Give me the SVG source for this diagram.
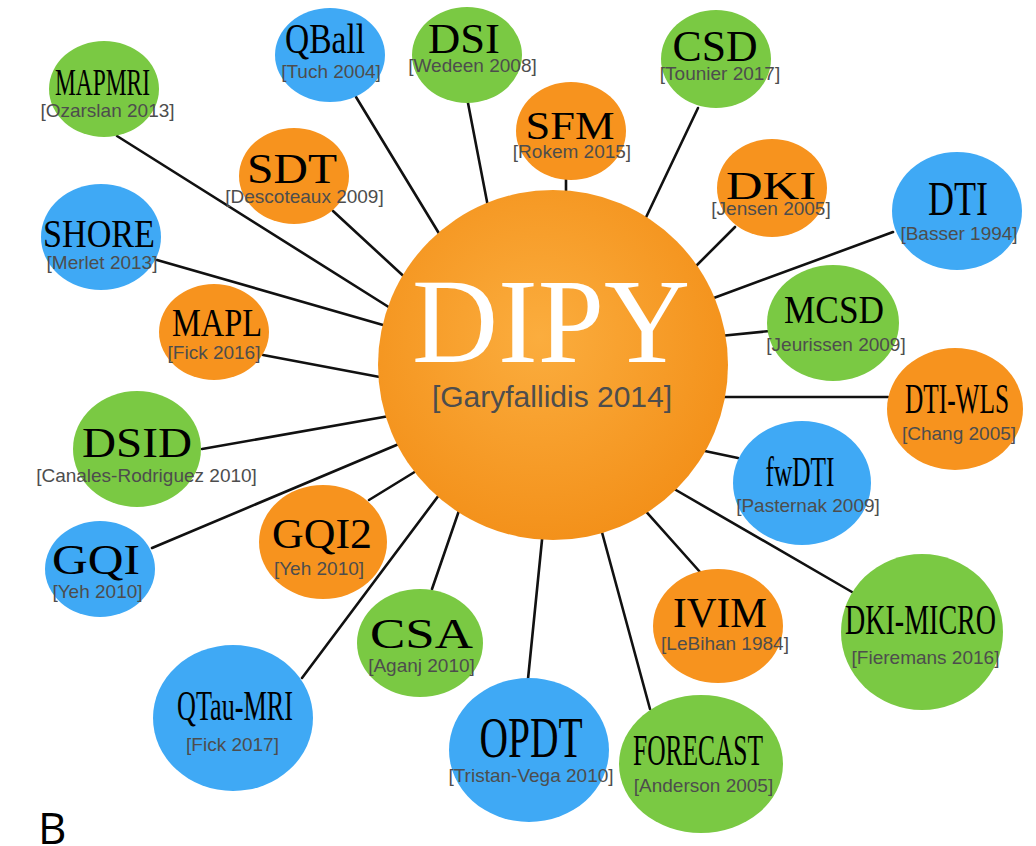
<svg xmlns="http://www.w3.org/2000/svg" width="1036" height="846" viewBox="0 0 1036 846">
<defs>
<radialGradient id="hub" cx="0.46" cy="0.42" r="0.6">
<stop offset="0" stop-color="#FBAD3E"/>
<stop offset="1" stop-color="#F39019"/>
</radialGradient>
<style>
.g{fill:#7AC943}.b{fill:#3FA9F5}.o{fill:#F7931E}
.t{font-family:"Liberation Serif","Times New Roman",serif;fill:#000;text-anchor:middle}
.s{font-family:"Liberation Sans",Arial,sans-serif;font-size:19px;fill:#4D4D4D;text-anchor:middle}
.c line{stroke:#111;stroke-width:2.6;stroke-linecap:round}
</style>
</defs>
<rect width="1036" height="846" fill="#fff"/>
<g id="connectors" class="c">
<line x1="117" y1="136" x2="395" y2="311"/>
<line x1="356" y1="97" x2="443" y2="240"/>
<line x1="468" y1="103" x2="489" y2="212"/>
<line x1="566" y1="178" x2="566" y2="205"/>
<line x1="698" y1="108" x2="640" y2="230"/>
<line x1="333" y1="211" x2="411" y2="283"/>
<line x1="735" y1="227" x2="690" y2="272"/>
<line x1="157" y1="260" x2="390" y2="327"/>
<line x1="893" y1="232" x2="711" y2="299"/>
<line x1="263" y1="355" x2="385" y2="378"/>
<line x1="770" y1="331" x2="720" y2="336"/>
<line x1="888" y1="397" x2="722" y2="397"/>
<line x1="202" y1="449" x2="395" y2="415"/>
<line x1="738" y1="458" x2="700" y2="450"/>
<line x1="152" y1="548" x2="406" y2="441"/>
<line x1="369" y1="500" x2="426" y2="465"/>
<line x1="432" y1="589" x2="463" y2="499"/>
<line x1="302" y1="678" x2="445" y2="487"/>
<line x1="528" y1="679" x2="543" y2="530"/>
<line x1="650" y1="709" x2="600" y2="525"/>
<line x1="700" y1="572" x2="642" y2="507"/>
<line x1="852" y1="592" x2="669" y2="486"/>
</g>
<g id="dipy">
<circle cx="553" cy="365" r="175" fill="url(#hub)"/>
<text class="t" x="551" y="362" font-size="120" style="fill:#fff" textLength="278" lengthAdjust="spacingAndGlyphs">DIPY</text>
<text class="s" x="552" y="407" style="font-size:30px">[Garyfallidis 2014]</text>
</g>
<g id="mapmri"><ellipse class="g" cx="104" cy="89" rx="55" ry="48"/><text class="t" x="102.5" y="95" font-size="38" textLength="95" lengthAdjust="spacingAndGlyphs">MAPMRI</text><text class="s" x="107.5" y="117">[Ozarslan 2013]</text></g>
<g id="qball"><ellipse class="b" cx="330" cy="55" rx="55" ry="47"/><text class="t" x="325" y="53" font-size="42" textLength="80" lengthAdjust="spacingAndGlyphs">QBall</text><text class="s" x="331" y="78">[Tuch 2004]</text></g>
<g id="dsi"><ellipse class="g" cx="467" cy="55" rx="55" ry="48"/><text class="t" x="464" y="53" font-size="42" textLength="72" lengthAdjust="spacingAndGlyphs">DSI</text><text class="s" x="472.5" y="72">[Wedeen 2008]</text></g>
<g id="csd"><ellipse class="g" cx="716" cy="59" rx="55" ry="49"/><text class="t" x="715" y="61" font-size="44" textLength="85" lengthAdjust="spacingAndGlyphs">CSD</text><text class="s" x="720" y="80">[Tounier 2017]</text></g>
<g id="sfm"><ellipse class="o" cx="571" cy="131" rx="55" ry="49"/><text class="t" x="570" y="139" font-size="41" textLength="89" lengthAdjust="spacingAndGlyphs">SFM</text><text class="s" x="572" y="158">[Rokem 2015]</text></g>
<g id="sdt"><ellipse class="o" cx="294" cy="176" rx="55" ry="48"/><text class="t" x="292" y="183" font-size="42" textLength="90" lengthAdjust="spacingAndGlyphs">SDT</text><text class="s" x="304.5" y="203">[Descoteaux 2009]</text></g>
<g id="dki"><ellipse class="o" cx="772" cy="188" rx="55" ry="49"/><text class="t" x="771" y="199" font-size="41" textLength="90" lengthAdjust="spacingAndGlyphs">DKI</text><text class="s" x="771" y="215">[Jensen 2005]</text></g>
<g id="shore"><ellipse class="b" cx="101" cy="237" rx="60" ry="53"/><text class="t" x="99" y="247" font-size="41" textLength="112" lengthAdjust="spacingAndGlyphs">SHORE</text><text class="s" x="102" y="269">[Merlet 2013]</text></g>
<g id="dti"><ellipse class="b" cx="957" cy="211" rx="65" ry="59"/><text class="t" x="958" y="215" font-size="49" textLength="60" lengthAdjust="spacingAndGlyphs">DTI</text><text class="s" x="959" y="240">[Basser 1994]</text></g>
<g id="mapl"><ellipse class="o" cx="214" cy="332" rx="55" ry="48"/><text class="t" x="217" y="336" font-size="41" textLength="90" lengthAdjust="spacingAndGlyphs">MAPL</text><text class="s" x="214" y="359">[Fick 2016]</text></g>
<g id="mcsd"><ellipse class="g" cx="833" cy="323" rx="66" ry="58"/><text class="t" x="834" y="323" font-size="41" textLength="100" lengthAdjust="spacingAndGlyphs">MCSD</text><text class="s" x="836" y="351">[Jeurissen 2009]</text></g>
<g id="dti-wls"><ellipse class="o" cx="955" cy="409" rx="68" ry="61"/><text class="t" x="957" y="413" font-size="42" textLength="104" lengthAdjust="spacingAndGlyphs">DTI-WLS</text><text class="s" x="959" y="440">[Chang 2005]</text></g>
<g id="dsid"><ellipse class="g" cx="137" cy="449" rx="64" ry="58"/><text class="t" x="137" y="457" font-size="42" textLength="110" lengthAdjust="spacingAndGlyphs">DSID</text><text class="s" x="146.5" y="482">[Canales-Rodriguez 2010]</text></g>
<g id="fwdti"><ellipse class="b" cx="802" cy="483" rx="69" ry="62"/><text class="t" x="800" y="486" font-size="42" textLength="69" lengthAdjust="spacingAndGlyphs">fwDTI</text><text class="s" x="808" y="512">[Pasternak 2009]</text></g>
<g id="gqi2"><ellipse class="o" cx="323" cy="542" rx="64" ry="57"/><text class="t" x="322" y="548" font-size="42" textLength="100" lengthAdjust="spacingAndGlyphs">GQI2</text><text class="s" x="319" y="575">[Yeh 2010]</text></g>
<g id="gqi"><ellipse class="b" cx="100" cy="569" rx="55" ry="48"/><text class="t" x="96" y="574" font-size="42" textLength="88" lengthAdjust="spacingAndGlyphs">GQI</text><text class="s" x="97.5" y="598">[Yeh 2010]</text></g>
<g id="csa"><ellipse class="g" cx="420" cy="643" rx="63" ry="54"/><text class="t" x="421.5" y="648" font-size="42" textLength="103" lengthAdjust="spacingAndGlyphs">CSA</text><text class="s" x="421.5" y="672">[Aganj 2010]</text></g>
<g id="ivim"><ellipse class="o" cx="718" cy="626" rx="65" ry="57"/><text class="t" x="720" y="627" font-size="42" textLength="94" lengthAdjust="spacingAndGlyphs">IVIM</text><text class="s" x="725" y="650">[LeBihan 1984]</text></g>
<g id="dki-micro"><ellipse class="g" cx="922" cy="632" rx="81" ry="78"/><text class="t" x="920.5" y="634" font-size="43" textLength="151" lengthAdjust="spacingAndGlyphs">DKI-MICRO</text><text class="s" x="925.5" y="664">[Fieremans 2016]</text></g>
<g id="qtau-mri"><ellipse class="b" cx="233" cy="718" rx="80" ry="73"/><text class="t" x="235" y="720" font-size="42" textLength="116" lengthAdjust="spacingAndGlyphs">QTau-MRI</text><text class="s" x="232.5" y="751">[Fick 2017]</text></g>
<g id="opdt"><ellipse class="b" cx="529" cy="750" rx="80" ry="72"/><text class="t" x="531" y="757" font-size="57" textLength="103" lengthAdjust="spacingAndGlyphs">OPDT</text><text class="s" x="531" y="782">[Tristan-Vega 2010]</text></g>
<g id="forecast"><ellipse class="g" cx="701" cy="764" rx="82" ry="69"/><text class="t" x="698" y="765" font-size="44" textLength="130" lengthAdjust="spacingAndGlyphs">FORECAST</text><text class="s" x="703.5" y="792">[Anderson 2005]</text></g>
<text x="38" y="844" font-family="'Open Sans','Noto Sans','Liberation Sans',sans-serif" font-size="44" fill="#000">B</text>
</svg>
